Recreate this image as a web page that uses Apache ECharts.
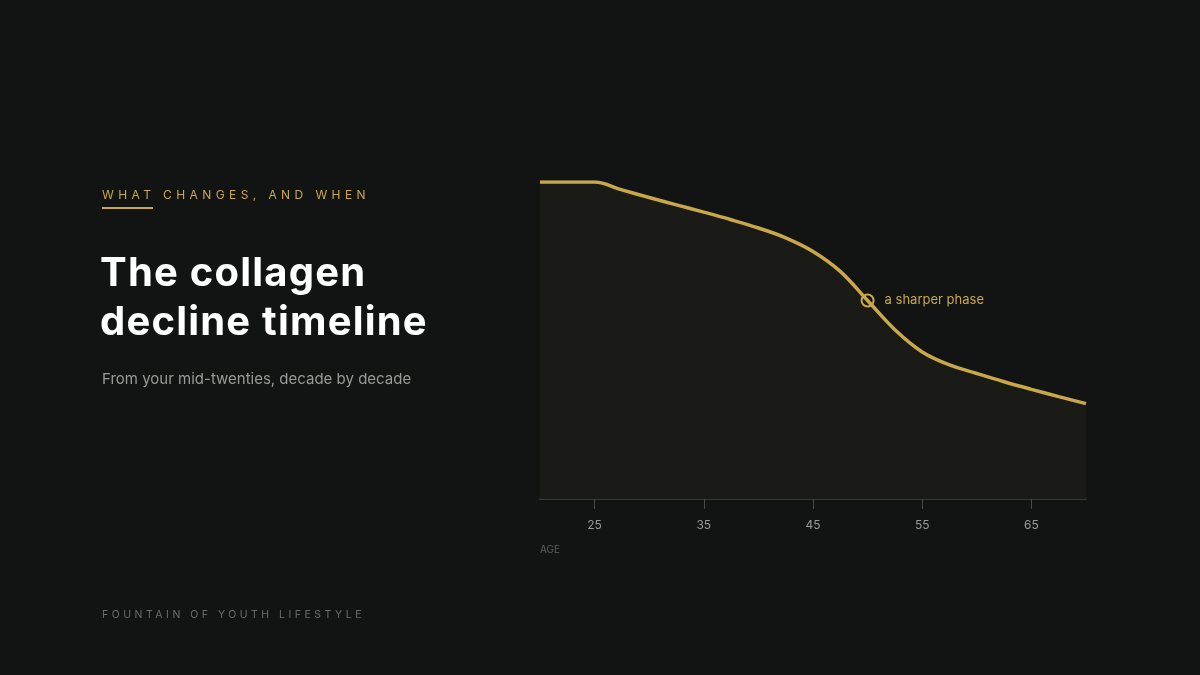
<!DOCTYPE html>
<html>
<head>
<meta charset="utf-8">
<script src="https://cdn.jsdelivr.net/npm/echarts@6/dist/echarts.min.js"></script>
<style>
  html,body{margin:0;padding:0;background:#121313;}
  #wrap{position:relative;width:1200px;height:675px;background:#121313;overflow:hidden;font-family:"Inter","Noto Sans",sans-serif;}
  #chart{position:absolute;left:0;top:0;width:1200px;height:675px;}
  .eyebrow{position:absolute;left:102px;top:187px;font-size:12px;letter-spacing:4.4px;color:#c9a84c;white-space:nowrap;}
  .rule{position:absolute;left:102px;top:207px;width:51px;height:2px;background:#c9a84c;}
  .title{position:absolute;left:100px;top:247px;font-size:40px;font-weight:700;line-height:49px;color:#ffffff;white-space:nowrap;letter-spacing:1.2px;}
  .sub{position:absolute;left:102px;top:369px;font-size:15px;color:#9a9a96;white-space:nowrap;}
  .foot{position:absolute;left:102px;top:608px;font-size:10.5px;letter-spacing:3.5px;color:#6b6b68;white-space:nowrap;}
</style>
</head>
<body>
<div id="wrap">
  <div id="chart"></div>
  <div class="eyebrow">WHAT CHANGES, AND WHEN</div>
  <div class="rule"></div>
  <div class="title">The collagen<br>decline timeline</div>
  <div class="sub">From your mid-twenties, decade by decade</div>
  <div class="foot">FOUNTAIN OF YOUTH LIFESTYLE</div>
</div>
<script>
const ages = [20, 22.5, 25, 27.5, 30, 32.5, 35, 37.5, 40, 42.5, 45, 47.5, 50, 52.5, 55, 57.5, 60, 62.5, 65, 67.5, 70];
const collagen = [100, 100, 100, 97.5, 95.1, 92.8, 90.5, 88.1, 85.5, 82.4, 78.1, 71.8, 62.6, 53.4, 46.4, 42.3, 39.6, 37.0, 34.6, 32.3, 30.1];
const tickAges = [25, 35, 45, 55, 65];
const markAge = 50;
const markValue = 62.6;
const markLabel = 'a sharper phase';
const axisName = 'AGE';

const gold = '#c9a84c';
const chart = echarts.init(document.getElementById('chart'));
chart.setOption({
  backgroundColor: 'transparent',
  animation: false,
  grid: {left: 540, right: 114, top: 182, bottom: 176},
  xAxis: {
    type: 'value', min: 20, max: 70,
    axisLine: {show: true, lineStyle: {color: '#383934', width: 2}},
    axisTick: {show: true, length: 10, lineStyle: {color: '#4a4a46', width: 1}, customValues: tickAges},
    axisLabel: {show: true, color: '#9a9a96', fontSize: 12, margin: 20, fontFamily: 'Inter', customValues: tickAges},
    splitLine: {show: false}
  },
  yAxis: {type: 'value', min: 0, max: 100, show: false, splitLine: {show: false}},
  graphic: [{
    type: 'text', left: 540, top: 545,
    style: {text: axisName, fill: '#5f5f5c', fontSize: 10, fontFamily: 'Inter'}
  }],
  series: [{
    type: 'line',
    data: ages.map((a, i) => [a, collagen[i]]),
    smooth: 0.35,
    showSymbol: false,
    lineStyle: {color: gold, width: 3.5},
    areaStyle: {color: '#1a1b16', opacity: 1},
    markPoint: {
      symbol: 'circle', symbolSize: 12,
      itemStyle: {color: 'rgba(0,0,0,0)', borderColor: gold, borderWidth: 2},
      label: {show: true, position: 'right', distance: 10, formatter: markLabel, color: gold, fontSize: 13, fontFamily: 'Inter'},
      data: [{coord: [markAge, markValue]}]
    }
  }]
});
</script>
</body>
</html>
